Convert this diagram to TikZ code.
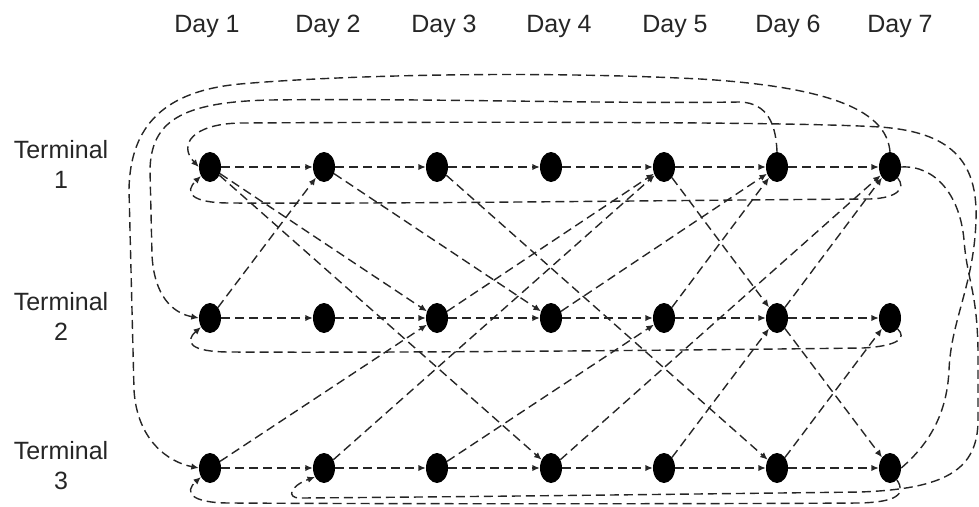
\documentclass[tikz,border=0pt]{standalone}
\usepackage{fontspec}
\setmainfont{Liberation Sans}
\usetikzlibrary{arrows.meta,shapes.geometric}
\begin{document}
\begin{tikzpicture}[x=1pt,y=-1pt,
  dot/.style={ellipse,fill=black,draw=none,minimum width=22pt,minimum height=30pt,inner sep=0pt},
  flow/.style={draw=black!85,line width=1.4pt,dash pattern=on 9pt off 5pt,
               -{Latex[length=7.5pt,width=6.5pt]}},
  lbl/.style={font=\fontsize{25}{30}\selectfont,text=black!85,inner sep=0pt}]
\useasboundingbox (0,0) rectangle (979,506);

% terminals (rows) x days (columns)
\foreach \r/\y in {1/167,2/318,3/468}
  \foreach \d/\x in {1/210,2/324,3/437,4/551,5/664,6/777,7/890}
    \node[dot] (n\r\d) at (\x,\y) {};

% column headings
\foreach \d/\x in {1/207,2/328,3/444,4/559,5/675,6/788,7/900}
  \node[lbl,anchor=base] (day\d) at (\x,32) {Day \d};

% row headings
\node[lbl,align=center] (term1) at (61,164) {Terminal\\1};
\node[lbl,align=center] (term2) at (61,316) {Terminal\\2};
\node[lbl,align=center] (term3) at (61,466) {Terminal\\3};

% waiting arcs
\foreach \r in {1,2,3}
  \foreach \a/\b in {1/2,2/3,3/4,4/5,5/6,6/7}
    \draw[flow] (n\r\a) -- (n\r\b);

% travel arcs between terminals
\foreach \s/\t in {11/23,11/34,21/12,12/24,13/36,31/23,32/15,23/15,24/16,
                   33/25,25/16,15/26,34/17,35/26,26/17,26/37,36/27}
  \draw[flow] (n\s) -- (n\t);

% wrap-around arcs over the top
\draw[flow] (n17.north) .. controls (887,118) and (850,88) .. (700,79)
  .. controls (520,70) and (330,76) .. (240,84)
  .. controls (165,91) and (130,125) .. (129,190) -- (134,390)
  .. controls (137,440) and (168,462) .. (n31.west);
\draw[flow] (n16.north) .. controls (776,125) and (768,103) .. (740,102)
  .. controls (600,104) and (420,98) .. (270,100)
  .. controls (180,102) and (151,122) .. (150,170) -- (152,255)
  .. controls (154,295) and (172,313) .. (n21.west);
\draw[flow] (n37.east) .. controls (928,445) and (947,415) .. (949,370)
  .. controls (951,320) and (974,285) .. (976,220)
  .. controls (978,160) and (950,132) .. (880,127)
  .. controls (780,121) and (420,122) .. (240,123)
  .. controls (192,124) and (178,145) .. (n11.west);

% wrap-around arc down the right side and along the bottom
\draw[flow] (n17.east) .. controls (935,165) and (960,195) .. (964,240)
  .. controls (967,280) and (977,290) .. (978,350) -- (978,420)
  .. controls (978,470) and (945,489) .. (860,492)
  .. controls (700,494) and (450,497) .. (300,498)
  .. controls (286,498) and (290,486) .. (n32.225);

% end-of-week returns within each terminal
\draw[flow] (n17.-55) .. controls (906,188) and (898,198) .. (870,199)
  .. controls (700,200) and (400,204) .. (230,203)
  .. controls (190,203) and (184,192) .. (n11.225);
\draw[flow] (n27.-55) .. controls (907,338) and (898,346) .. (863,348)
  .. controls (700,350) and (400,353) .. (230,352)
  .. controls (190,352) and (184,342) .. (n21.225);
\draw[flow] (n37.-60) .. controls (907,495) and (895,502) .. (860,503)
  .. controls (700,504) and (400,504) .. (230,503)
  .. controls (190,503) and (184,492) .. (n31.225);
\end{tikzpicture}
\end{document}
